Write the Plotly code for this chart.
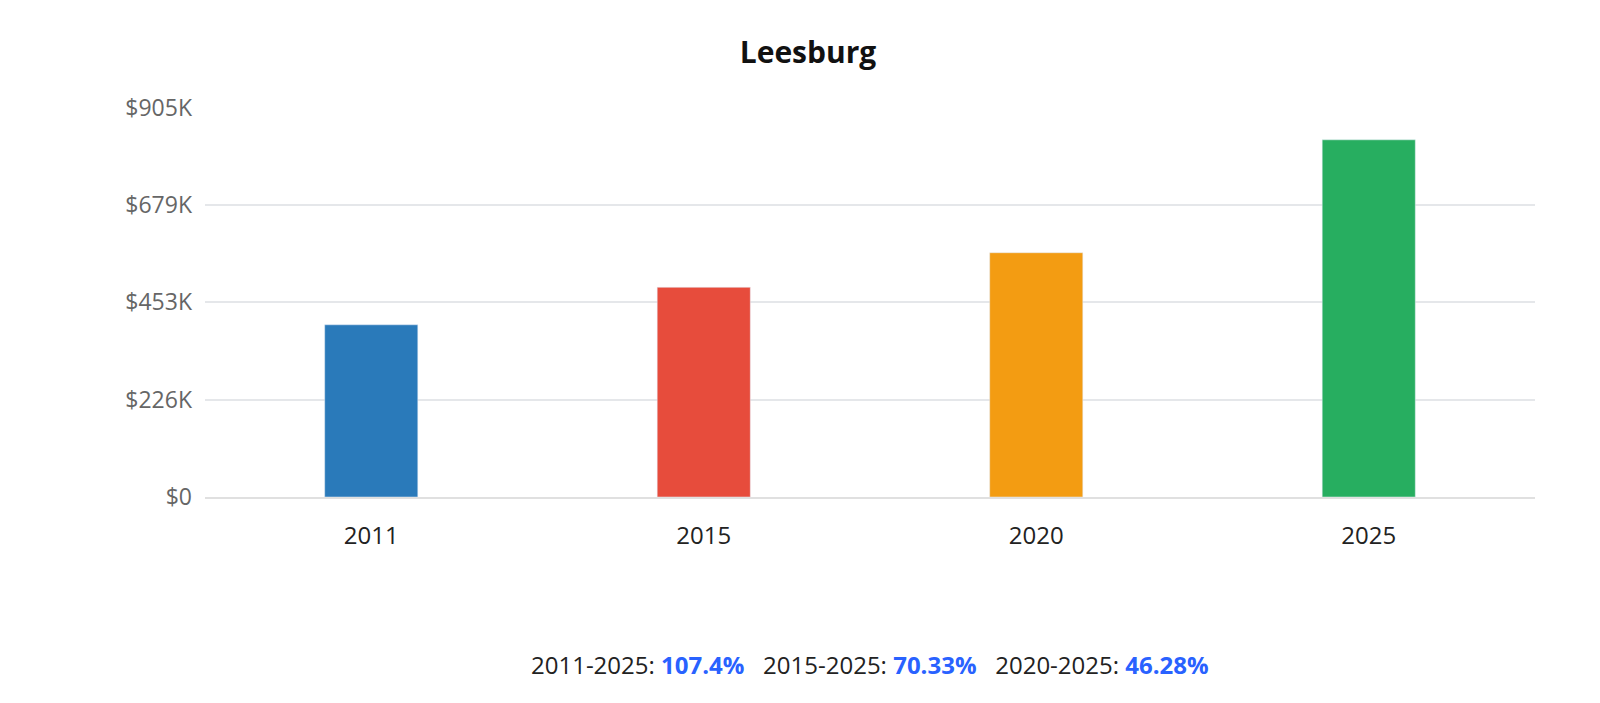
import plotly.graph_objects as go

years = ["2011", "2015", "2020", "2025"]
values = [400500, 487700, 568100, 830700]
colors = ["#2a7aba", "#e74c3c", "#f39c12", "#27ae60"]
tick_vals = [0, 226250, 452500, 678750, 905000]
tick_text = ["$0", "$226K", "$453K", "$679K", "$905K"]
growth_labels = ["2011-2025:", "2015-2025:", "2020-2025:"]
growth_values = ["107.4%", "70.33%", "46.28%"]

fig = go.Figure(go.Bar(x=years, y=values, marker_color=colors, width=0.28))

txt = "   ".join(f"{l} <b><span style='color:#2962ff'>{v}</span></b>"
                  for l, v in zip(growth_labels, growth_values))

fig.update_layout(
    width=1600, height=703,
    paper_bgcolor="white", plot_bgcolor="white",
    margin=dict(l=197, r=73, t=99, b=214),
    font=dict(family="Open Sans, Noto Sans, sans-serif"),
    title=dict(text="<b>Leesburg</b>", x=0.5, xanchor="center", y=0.936, yanchor="middle",
               font=dict(size=30, color="#111")),
    showlegend=False,
    yaxis=dict(range=[0, 907000], tickvals=tick_vals, ticktext=tick_text,
               gridcolor="#e5e7ea", gridwidth=2, zeroline=False,
               tickfont=dict(size=23, color="#666"), ticks="", ticklabelstandoff=12),
    xaxis=dict(tickfont=dict(size=24, color="#222"), showline=True, linecolor="#e0e0e0",
               linewidth=2, ticklabelstandoff=16),
    annotations=[dict(text=txt, x=0.5, xref="paper", xanchor="center",
                      y=-0.43, yref="paper", yanchor="middle", showarrow=False,
                      font=dict(size=24, color="#222"))],
)

fig.write_html("out.html")
